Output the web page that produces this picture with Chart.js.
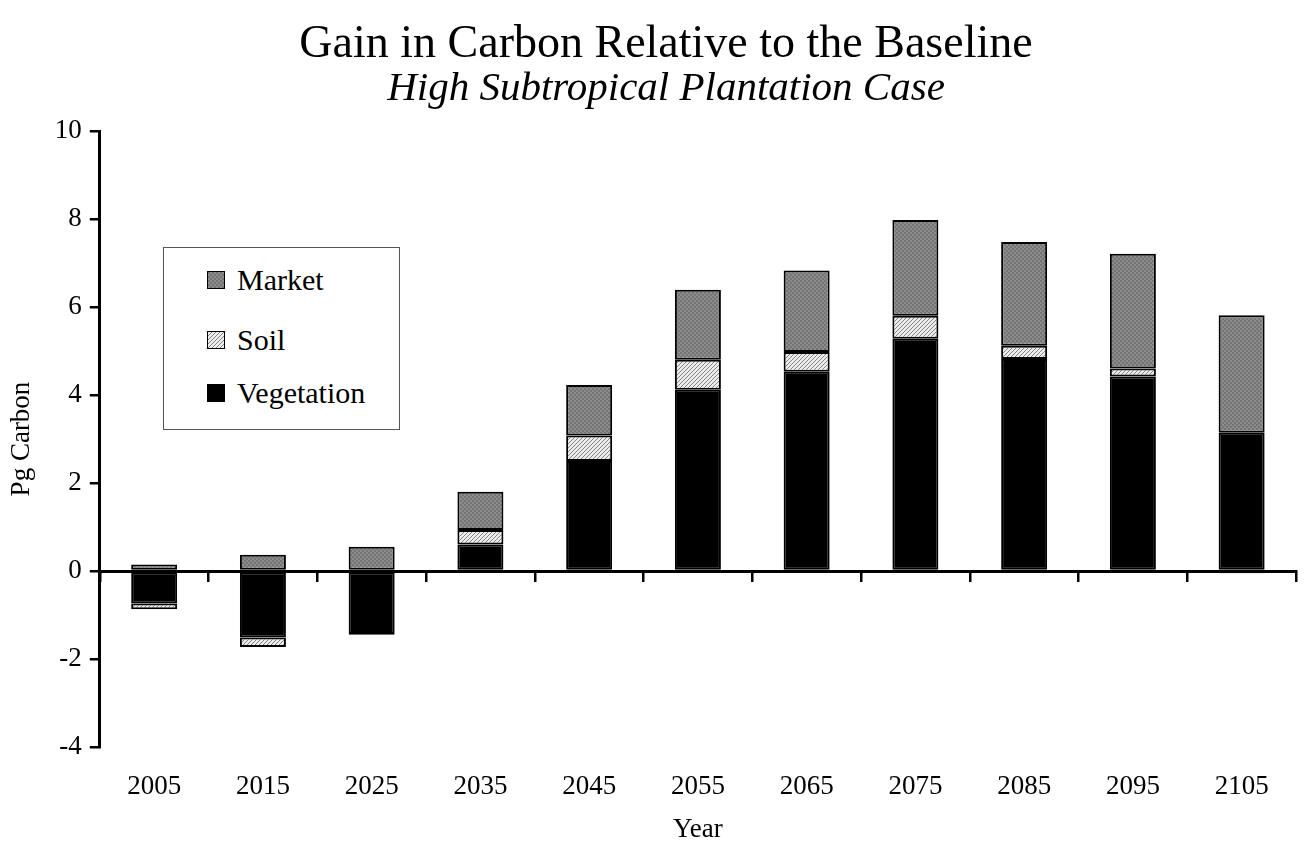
<!DOCTYPE html>
<html><head><meta charset="utf-8">
<script src="https://cdn.jsdelivr.net/npm/chart.js@4.4.1/dist/chart.umd.min.js"></script>
<style>
html,body{margin:0;padding:0;background:#fff;}
#wrap{position:relative;width:1310px;height:842px;}
#legend{position:absolute;left:163px;top:247px;width:237px;height:183px;border:1px solid #555;background:#fff;box-sizing:border-box;font-family:"Liberation Serif",serif;font-size:30px;color:#000;}
.item{position:absolute;left:43px;height:34px;display:flex;align-items:center;white-space:nowrap;}
.sw{width:18px;height:18px;border:1.5px solid #000;box-sizing:border-box;margin-right:12px;}
</style></head>
<body><div id="wrap"><canvas id="c" width="1310" height="842"></canvas><div id="legend"></div></div>
<script>
const years = ['2005','2015','2025','2035','2045','2055','2065','2075','2085','2095','2105'];
const vegetation = [-0.74, -1.51, -1.43, 0.60, 2.50, 4.12, 4.53, 5.28, 4.82, 4.42, 3.14];
const soil = [-0.13, -0.22, -0.02, 0.33, 0.58, 0.68, 0.45, 0.52, 0.30, 0.18, -0.05];
const market = [0.15, 0.37, 0.55, 0.87, 1.15, 1.59, 1.85, 2.18, 2.36, 2.61, 2.67];
const yTicks = [-4, -2, 0, 2, 4, 6, 8, 10];

function makePatternCanvas(kind){
  const c = document.createElement('canvas');
  c.width = 4; c.height = 4;
  const g = c.getContext('2d');
  if (kind === 'market'){
    g.fillStyle = '#8c8c8c'; g.fillRect(0,0,4,4);
    g.fillStyle = '#747474'; g.fillRect(0,0,2,2); g.fillRect(2,2,2,2);
  } else {
    g.fillStyle = '#ececec'; g.fillRect(0,0,4,4);
    g.fillStyle = '#858585';
    for (let i=0;i<4;i++){ g.fillRect(i,3-i,1,1); }
  }
  return c;
}
const mc = makePatternCanvas('market');
const sc = makePatternCanvas('soil');
const ctx = document.getElementById('c').getContext('2d');
const marketFill = ctx.createPattern(mc,'repeat');
const soilFill = ctx.createPattern(sc,'repeat');

const legendItems = [
  {label:'Market', bg:'url(' + mc.toDataURL() + ')', top:15},
  {label:'Soil', bg:'url(' + sc.toDataURL() + ')', top:75},
  {label:'Vegetation', bg:'#000', top:128}
];
const lg = document.getElementById('legend');
legendItems.forEach(it => {
  const d = document.createElement('div');
  d.className = 'item'; d.style.top = it.top + 'px';
  const s = document.createElement('span'); s.className = 'sw';
  s.style.background = it.bg;
  const t = document.createElement('span'); t.textContent = it.label;
  d.appendChild(s); d.appendChild(t); lg.appendChild(d);
});

const serif = '"Liberation Serif", "Times New Roman", serif';
const barCommon = {borderColor:'#000', borderWidth:2, borderSkipped:false, barPercentage:0.423, categoryPercentage:1.0};

new Chart(ctx, {
  type:'bar',
  data:{
    labels: years,
    datasets:[
      Object.assign({label:'Vegetation', data:vegetation, backgroundColor:'#000'}, barCommon),
      Object.assign({label:'Soil', data:soil, backgroundColor:soilFill}, barCommon),
      Object.assign({label:'Market', data:market, backgroundColor:marketFill}, barCommon)
    ]
  },
  options:{
    responsive:false,
    animation:false,
    devicePixelRatio:1,
    layout:{padding:{left:36, right:14, top:0, bottom:0}},
    plugins:{
      legend:{display:false},
      tooltip:{enabled:false},
      title:{display:true, text:'Gain in Carbon Relative to the Baseline', color:'#000',
        font:{family:serif, size:46, weight:'normal', lineHeight:1.0}, padding:{top:21.5, bottom:1}},
      subtitle:{display:true, text:'High Subtropical Plantation Case', color:'#000',
        font:{family:serif, size:41, style:'italic', weight:'normal', lineHeight:1.0}, padding:{top:0, bottom:21.5}}
    },
    scales:{
      x:{
        type:'category', stacked:true, offset:true,
        position:{y:0}, z:1,
        grid:{display:true, drawOnChartArea:false, drawTicks:true, tickLength:9, color:'#000', lineWidth:2.5, offset:true},
        border:{display:true, color:'#000', width:3},
        ticks:{display:false}
      },
      x2:{
        type:'category', axis:'x', position:'bottom', offset:true,
        grid:{display:false, drawTicks:false},
        border:{display:false},
        ticks:{color:'#000', font:{family:serif, size:27, lineHeight:1.2}, padding:24, maxRotation:0, autoSkip:false},
        title:{display:true, text:'Year', color:'#000', font:{family:serif, size:27, lineHeight:1.0}, padding:{top:-10.9, bottom:-1.5}}
      },
      y:{
        stacked:true, min:-4, max:10,
        afterBuildTicks:(s)=>{ s.ticks = yTicks.map(v=>({value:v})); },
        grid:{display:true, drawOnChartArea:false, drawTicks:true, tickLength:10, color:'#000', lineWidth:2.5},
        border:{display:true, color:'#000', width:3},
        ticks:{color:'#000', font:{family:serif, size:27}, padding:8},
        title:{display:true, text:'Pg Carbon', color:'#000', font:{family:serif, size:27, lineHeight:1.2}, padding:{top:-30.2, bottom:8.6}}
      }
    }
  }
});
</script>
</body></html>
